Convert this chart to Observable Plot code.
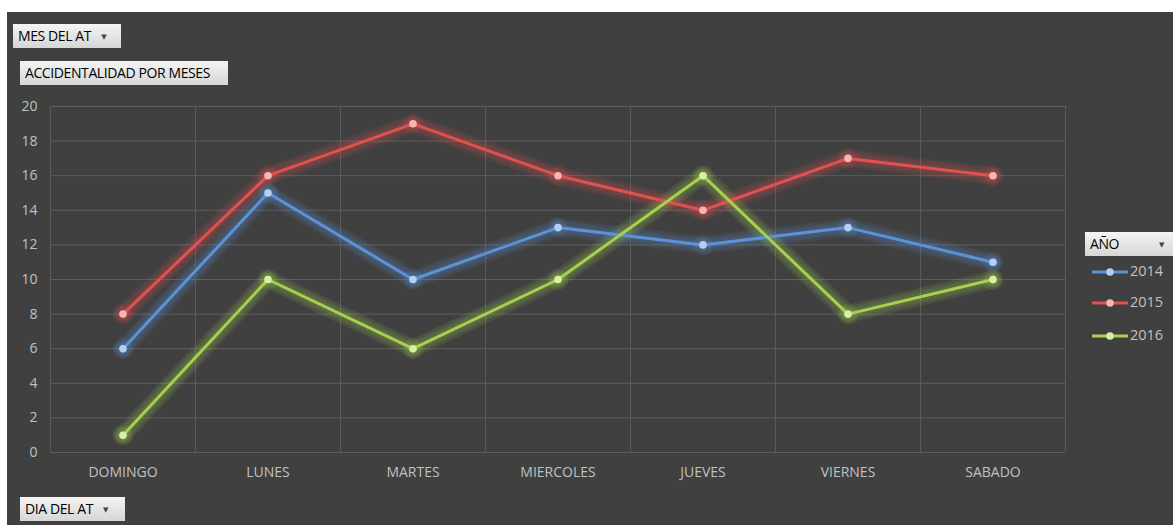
<!DOCTYPE html>
<html>
<head>
<meta charset="utf-8">
<script src="https://cdn.jsdelivr.net/npm/d3@7"></script>
<script src="https://cdn.jsdelivr.net/npm/@observablehq/plot@0.6"></script>
<style>
  html, body { margin: 0; padding: 0; background: #ffffff; }
  #wrap { position: relative; width: 1173px; height: 525px; overflow: hidden; background: #fff; font-family: "Open Sans", "DejaVu Sans", sans-serif; }
  #panel { position: absolute; left: 7px; top: 12px; width: 1166px; height: 513px; background: #404040; }
  #chart { position: absolute; left: 0; top: 12px; }
  .btn { position: absolute; background: linear-gradient(#f4f4f4, #d6d6d6); color: #000; font-size: 14px; line-height: 24px; height: 24px; padding: 0 5px; box-sizing: border-box; letter-spacing: -0.4px; white-space: nowrap; }
  .arrow { display: inline-block; margin-left: 10px; font-size: 7px; vertical-align: middle; color: #444; }
  .leg { position: absolute; left: 1090px; color: #c0c0c0; font-size: 14.5px; height: 20px; line-height: 20px; }
  .leg svg { vertical-align: middle; }
</style>
</head>
<body>
<div id="wrap">
  <div id="panel"></div>
  <div id="chart"></div>
  <div class="btn" style="left:13px; top:24px; width:108px;">MES DEL AT<span class="arrow">▼</span></div>
  <div class="btn" style="left:20px; top:61px; width:208px;">ACCIDENTALIDAD POR MESES</div>
  <div class="btn" style="left:20px; top:497px; width:105px;">DIA DEL AT<span class="arrow">▼</span></div>
  <div class="btn" style="left:1085px; top:232px; width:88px;">AÑO<span class="arrow" style="margin-left:40px">▼</span></div>
  <div id="legend"></div>
</div>
<script>
const days = ["DOMINGO", "LUNES", "MARTES", "MIERCOLES", "JUEVES", "VIERNES", "SABADO"];
const years = ["2014", "2015", "2016"];
const v2014 = [6, 15, 10, 13, 12, 13, 11];
const v2015 = [8, 16, 19, 16, 14, 17, 16];
const v2016 = [1, 10, 6, 10, 16, 8, 10];
const yTicks = [0, 2, 4, 6, 8, 10, 12, 14, 16, 18, 20];

const lineColors = {"2014": "#5b93d8", "2015": "#e0514f", "2016": "#a8d04e"};
const dotColors = {"2014": "#b4cff2", "2015": "#f4b6b4", "2016": "#d8efa8"};

const series = {"2014": v2014, "2015": v2015, "2016": v2016};
const data = years.flatMap(y => series[y].map((v, i) => ({year: y, i, value: v})));
const bounds = d3.range(days.length + 1).map(k => k - 0.5);

const glowWidths = [18, 13, 8];
const glowMarks = glowWidths.flatMap(w => [
  Plot.line(data, {x: "i", y: "value", z: "year", stroke: "year", strokeWidth: w, strokeOpacity: 0.11, strokeLinejoin: "round", strokeLinecap: "round"}),
  Plot.dot(data, {x: "i", y: "value", r: w / 2 + 1.5, fill: "year", fillOpacity: 0.11, stroke: "none"})
]);

const plot = Plot.plot({
  width: 1173,
  height: 513,
  marginLeft: 50,
  marginRight: 108,
  marginTop: 94,
  marginBottom: 73,
  style: {background: "transparent", color: "#c0c0c0", fontFamily: "'Open Sans', sans-serif", fontSize: "14px"},
  x: {type: "linear", domain: [-0.5, days.length - 0.5], axis: null},
  y: {domain: [0, 20], axis: null},
  color: {domain: years, range: years.map(y => lineColors[y])},
  marks: [
    Plot.ruleY(yTicks, {stroke: "#5e5e5e", strokeWidth: 1}),
    Plot.ruleX(bounds, {stroke: "#5a5a5a", strokeWidth: 1}),
    Plot.axisY(yTicks, {tickSize: 0, tickPadding: 13, fill: "#c0c0c0", fontSize: 14, label: null}),
    Plot.axisX(d3.range(days.length), {tickSize: 0, tickPadding: 15, tickFormat: i => days[i], fill: "#c0c0c0", fontSize: 14, label: null}),
    ...glowMarks,
    Plot.line(data, {x: "i", y: "value", z: "year", stroke: "year", strokeWidth: 3}),
    Plot.dot(data, {x: "i", y: "value", r: 3.8, fill: d => dotColors[d.year], stroke: "none"})
  ]
});

document.getElementById("chart").appendChild(plot);

// legend
const legend = d3.select("#legend");
const legY = [261, 292, 325];
years.forEach((y, k) => {
  const row = legend.append("div").attr("class", "leg").style("top", legY[k] + "px");
  const s = row.append("svg").attr("width", 40).attr("height", 12);
  s.append("line").attr("x1", 2).attr("x2", 38).attr("y1", 6).attr("y2", 6).attr("stroke", lineColors[y]).attr("stroke-width", 3);
  s.append("circle").attr("cx", 20).attr("cy", 6).attr("r", 3.8).attr("fill", dotColors[y]);
  row.append("span").text(y);
});
</script>
</body>
</html>
